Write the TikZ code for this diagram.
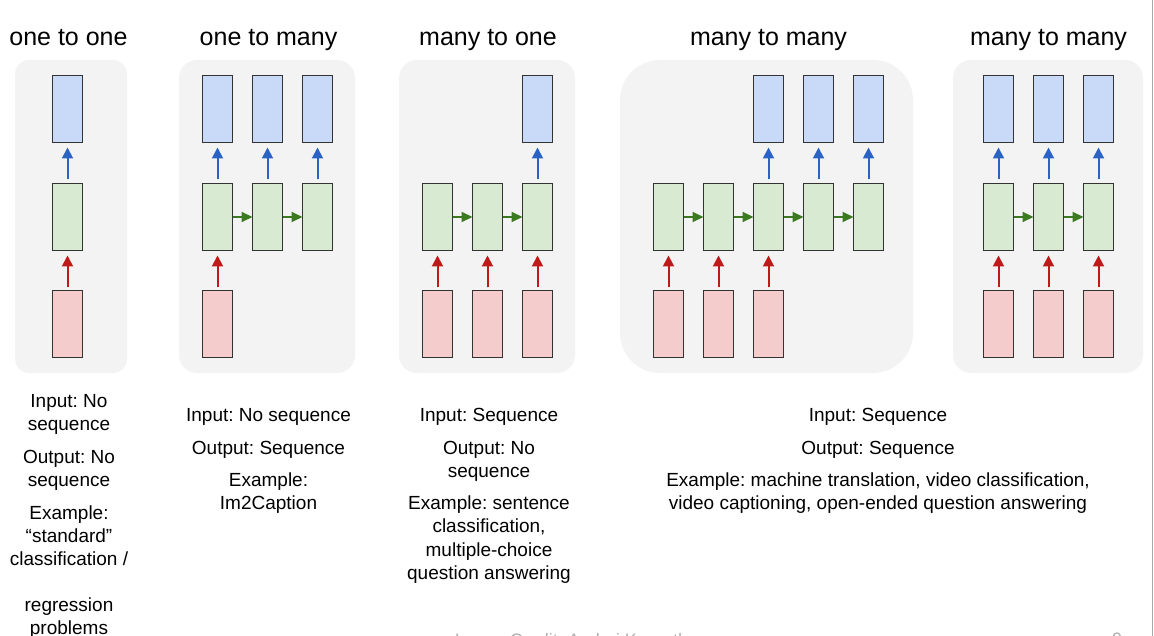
\documentclass[tikz,border=0pt]{standalone}
\usepackage{fontspec}
\setmainfont{Liberation Sans}
\frenchspacing
\usetikzlibrary{arrows.meta}
\definecolor{outc}{HTML}{C9DAF8}
\definecolor{hidc}{HTML}{D9EAD3}
\definecolor{inc}{HTML}{F4CCCC}
\definecolor{panelc}{HTML}{F3F3F3}
\definecolor{edgec}{HTML}{333333}
\definecolor{bluearr}{HTML}{2A63C4}
\definecolor{redarr}{HTML}{BF1A1A}
\definecolor{greenarr}{HTML}{3C7A22}
\definecolor{footc}{HTML}{B0B0B0}
\definecolor{framec}{HTML}{A8A8A8}
\begin{document}
\begin{tikzpicture}[x=1pt,y=-1pt,
  cell/.style={draw=edgec, line width=1.4pt, minimum width=30pt, minimum height=67pt, inner sep=0pt, outer sep=0pt},
  outcell/.style={cell, fill=outc},
  hidcell/.style={cell, fill=hidc},
  incell/.style={cell, fill=inc},
  panel/.style={fill=panelc, draw=none},
  titletext/.style={font=\fontsize{25}{30}\selectfont, anchor=base, inner sep=0pt},
  bodytext/.style={font=\fontsize{19}{23}\selectfont, anchor=base, inner sep=0pt},
  foottext/.style={font=\fontsize{18}{22}\selectfont, anchor=base, inner sep=0pt, text=footc},
  blueup/.style={draw=bluearr, fill=bluearr, line width=2pt, -{Triangle[length=11pt,width=11pt]}, shorten <=4pt, shorten >=5pt},
  redup/.style={draw=redarr, fill=redarr, line width=2pt, -{Triangle[length=11pt,width=11pt]}, shorten <=3pt, shorten >=5pt},
  greenright/.style={draw=greenarr, fill=greenarr, line width=2pt, -{Triangle[length=11pt,width=10pt]}, shorten <=0pt, shorten >=0pt}
]
\useasboundingbox[fill=white] (0,0) rectangle (1154,636);

% panels
\fill[panel, rounded corners=14pt] (15,60) rectangle (127,373);
\fill[panel, rounded corners=18pt] (179,60) rectangle (355,373);
\fill[panel, rounded corners=18pt] (399,60) rectangle (575,373);
\fill[panel, rounded corners=40pt] (620,60) rectangle (913,373);
\fill[panel, rounded corners=18pt] (953,60) rectangle (1143,373);

% titles
\node[titletext] (t1) at (68.5,46) {one to one};
\node[titletext] (t2) at (268.5,46) {one to many};
\node[titletext] (t3) at (488,46) {many to one};
\node[titletext] (t4) at (768.5,46) {many to many};
\node[titletext] (t5) at (1048.5,46) {many to many};

% panel 1: one to one
\node[outcell] (o11) at (67.5,109) {};
\node[hidcell] (h11) at (67.5,217) {};
\node[incell] (i11) at (67.5,324) {};
\draw[blueup] (h11) -- (o11);
\draw[redup] (i11) -- (h11);

% panel 2: one to many
\foreach \i/\x in {1/217.5,2/267.5,3/317.5}{
  \node[outcell] (o2\i) at (\x,109) {};
  \node[hidcell] (h2\i) at (\x,217) {};
  \draw[blueup] (h2\i) -- (o2\i);
}
\node[incell] (i21) at (217.5,324) {};
\draw[redup] (i21) -- (h21);
\draw[greenright] (h21) -- (h22);
\draw[greenright] (h22) -- (h23);

% panel 3: many to one
\foreach \i/\x in {1/437.5,2/487.5,3/537.5}{
  \node[hidcell] (h3\i) at (\x,217) {};
  \node[incell] (i3\i) at (\x,324) {};
  \draw[redup] (i3\i) -- (h3\i);
}
\node[outcell] (o33) at (537.5,109) {};
\draw[blueup] (h33) -- (o33);
\draw[greenright] (h31) -- (h32);
\draw[greenright] (h32) -- (h33);

% panel 4: many to many (delayed)
\foreach \i/\x in {1/668.5,2/718.5,3/768.5,4/818.5,5/868.5}{
  \node[hidcell] (h4\i) at (\x,217) {};
}
\foreach \i/\x in {1/668.5,2/718.5,3/768.5}{
  \node[incell] (i4\i) at (\x,324) {};
  \draw[redup] (i4\i) -- (h4\i);
}
\foreach \i/\x in {3/768.5,4/818.5,5/868.5}{
  \node[outcell] (o4\i) at (\x,109) {};
  \draw[blueup] (h4\i) -- (o4\i);
}
\draw[greenright] (h41) -- (h42);
\draw[greenright] (h42) -- (h43);
\draw[greenright] (h43) -- (h44);
\draw[greenright] (h44) -- (h45);

% panel 5: many to many (synced)
\foreach \i/\x in {1/998.5,2/1048.5,3/1098.5}{
  \node[outcell] (o5\i) at (\x,109) {};
  \node[hidcell] (h5\i) at (\x,217) {};
  \node[incell] (i5\i) at (\x,324) {};
  \draw[blueup] (h5\i) -- (o5\i);
  \draw[redup] (i5\i) -- (h5\i);
}
\draw[greenright] (h51) -- (h52);
\draw[greenright] (h52) -- (h53);

% descriptions, panel 1
\node[bodytext] (d11) at (69,407) {Input: No};
\node[bodytext] (d12) at (69,430) {sequence};
\node[bodytext] (d13) at (69,463) {Output: No};
\node[bodytext] (d14) at (69,486) {sequence};
\node[bodytext] (d15) at (69,519) {Example:};
\node[bodytext] (d16) at (69,542) {“standard”};
\node[bodytext] (d17) at (69,565) {classification /};
\node[bodytext] (d18) at (69,611) {regression};
\node[bodytext] (d19) at (69,634) {problems};

% descriptions, panel 2
\node[bodytext] (d21) at (268.5,421) {Input: No sequence};
\node[bodytext] (d22) at (268.5,454) {Output: Sequence};
\node[bodytext] (d23) at (268.5,486) {Example:};
\node[bodytext] (d24) at (268.5,509) {Im2Caption};

% descriptions, panel 3
\node[bodytext] (d31) at (489,421) {Input: Sequence};
\node[bodytext] (d32) at (489,454) {Output: No};
\node[bodytext] (d33) at (489,477) {sequence};
\node[bodytext] (d34) at (489,509) {Example: sentence};
\node[bodytext] (d35) at (489,532) {classification,};
\node[bodytext] (d36) at (489,556) {multiple-choice};
\node[bodytext] (d37) at (489,579) {question answering};

% descriptions, panels 4 and 5
\node[bodytext] (d41) at (878,421) {Input: Sequence};
\node[bodytext] (d42) at (878,454) {Output: Sequence};
\node[bodytext] (d43) at (878,486) {Example: machine translation, video classification,};
\node[bodytext] (d44) at (878,509) {video captioning, open-ended question answering};

% footer (cut off by the page edge, as in the reference)
\node[foottext] (credit) at (576,646) {Image Credit: Andrej Karpathy};
\node[foottext] (pagenum) at (1117,645) {9};

% right slide edge
\draw[framec, line width=1.2pt] (1152.6,0) -- (1152.6,636);
\end{tikzpicture}
\end{document}
